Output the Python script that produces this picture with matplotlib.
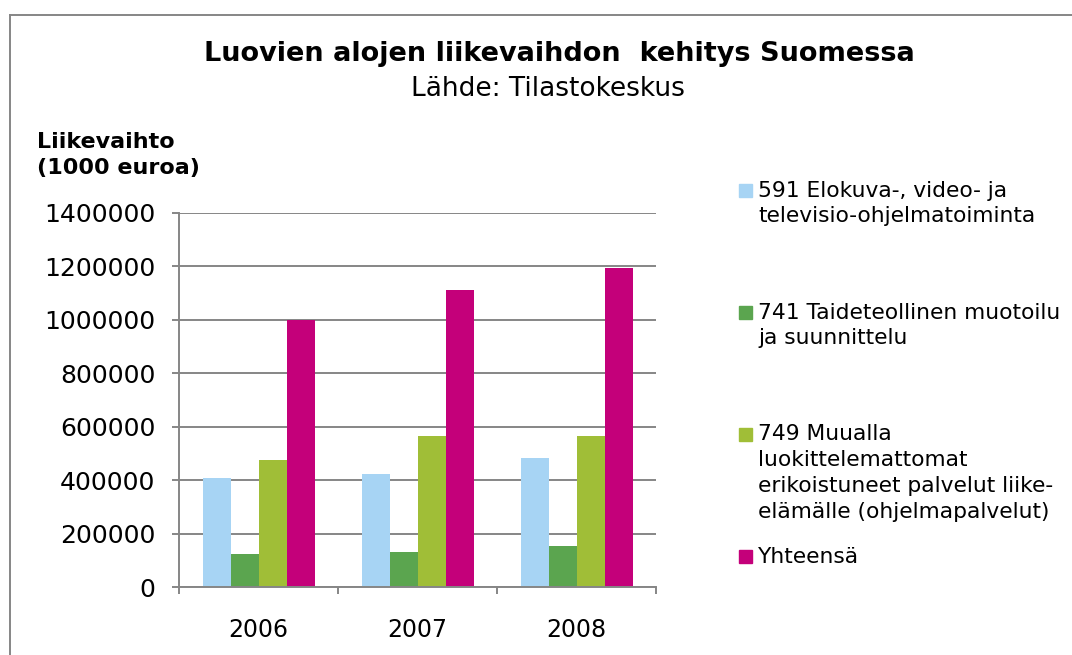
import matplotlib.pyplot as plt
import numpy as np
from matplotlib.lines import Line2D
from matplotlib.patches import Rectangle

years = ['2006', '2007', '2008']
series_names = [
    '591 Elokuva-, video- ja\ntelevisio-ohjelmatoiminta',
    '741 Taideteollinen muotoilu\nja suunnittelu',
    '749 Muualla\nluokittelemattomat\nerikoistuneet palvelut liike-\nelämälle (ohjelmapalvelut)',
    'Yhteensä',
]
elokuva = [408000, 422000, 483000]
muotoilu = [122000, 131000, 152000]
muut = [475000, 565000, 565000]
yhteensa = [1000000, 1112000, 1195000]
y_ticks = [0, 200000, 400000, 600000, 800000, 1000000, 1200000, 1400000]

colors = ['#a7d4f4', '#5ba54f', '#a0be37', '#c4007a']
grey = '#868686'

fig = plt.figure(figsize=(10.72, 6.55), dpi=100)
ax = fig.add_axes([0.167, 0.1038, 0.445, 0.5712])

x = np.arange(len(years))
w = 0.176
all_series = [elokuva, muotoilu, muut, yhteensa]
for i, vals in enumerate(all_series):
    ax.bar(x + (i - 1.5) * w, vals, width=w, color=colors[i], zorder=3)

ax.set_xlim(-0.5, 2.5)
ax.set_ylim(0, 1400000)
ax.set_yticks(y_ticks)
ax.set_yticklabels([str(v) for v in y_ticks], fontsize=18)
ax.set_xticks(x)
ax.set_xticklabels(years, fontsize=17)
ax.set_xticks([-0.5, 0.5, 1.5, 2.5], minor=True)
ax.tick_params(axis='x', which='major', length=0, pad=22)
ax.tick_params(axis='x', which='minor', length=5, width=1.4, color=grey)
ax.tick_params(axis='y', length=5, width=1.4, color=grey, pad=12)

ax.grid(axis='y', color=grey, linewidth=1.4, zorder=0)
ax.set_axisbelow(True)
for s in ['top', 'right']:
    ax.spines[s].set_visible(False)
for s in ['left', 'bottom']:
    ax.spines[s].set_color(grey)
    ax.spines[s].set_linewidth(1.4)
    ax.spines[s].set_zorder(4)

# titles
fig.text(0.522, 0.918, 'Luovien alojen liikevaihdon  kehitys Suomessa',
         ha='center', va='center', fontsize=19.5, fontweight='bold')
fig.text(0.511, 0.8645, 'Lähde: Tilastokeskus', ha='center', va='center', fontsize=19)
fig.text(0.0345, 0.764, 'Liikevaihto\n(1000 euroa)', ha='left', va='center',
         fontsize=16, fontweight='bold', linespacing=1.38)

# legend drawn by hand, entries spaced like the original
first_line_y = [190.7, 312.7, 434.5, 556.7]
for i, name in enumerate(series_names):
    yc = 1 - first_line_y[i] / 655
    fig.patches.append(Rectangle((739 / 1072, yc - 6.5 / 655), 13 / 1072, 13 / 655,
                                 transform=fig.transFigure, color=colors[i]))
    fig.text(758 / 1072, yc + 10 / 655, name, ha='left', va='top',
             fontsize=15.7, linespacing=1.36)

# chart border (left and top)
fig.add_artist(Line2D([10 / 1072, 10 / 1072], [0, 1 - 15 / 655],
                      transform=fig.transFigure, color=grey, linewidth=1.4))
fig.add_artist(Line2D([10 / 1072, 1], [1 - 15 / 655, 1 - 15 / 655],
                      transform=fig.transFigure, color=grey, linewidth=1.4))

fig.savefig('out.png', dpi=100)
